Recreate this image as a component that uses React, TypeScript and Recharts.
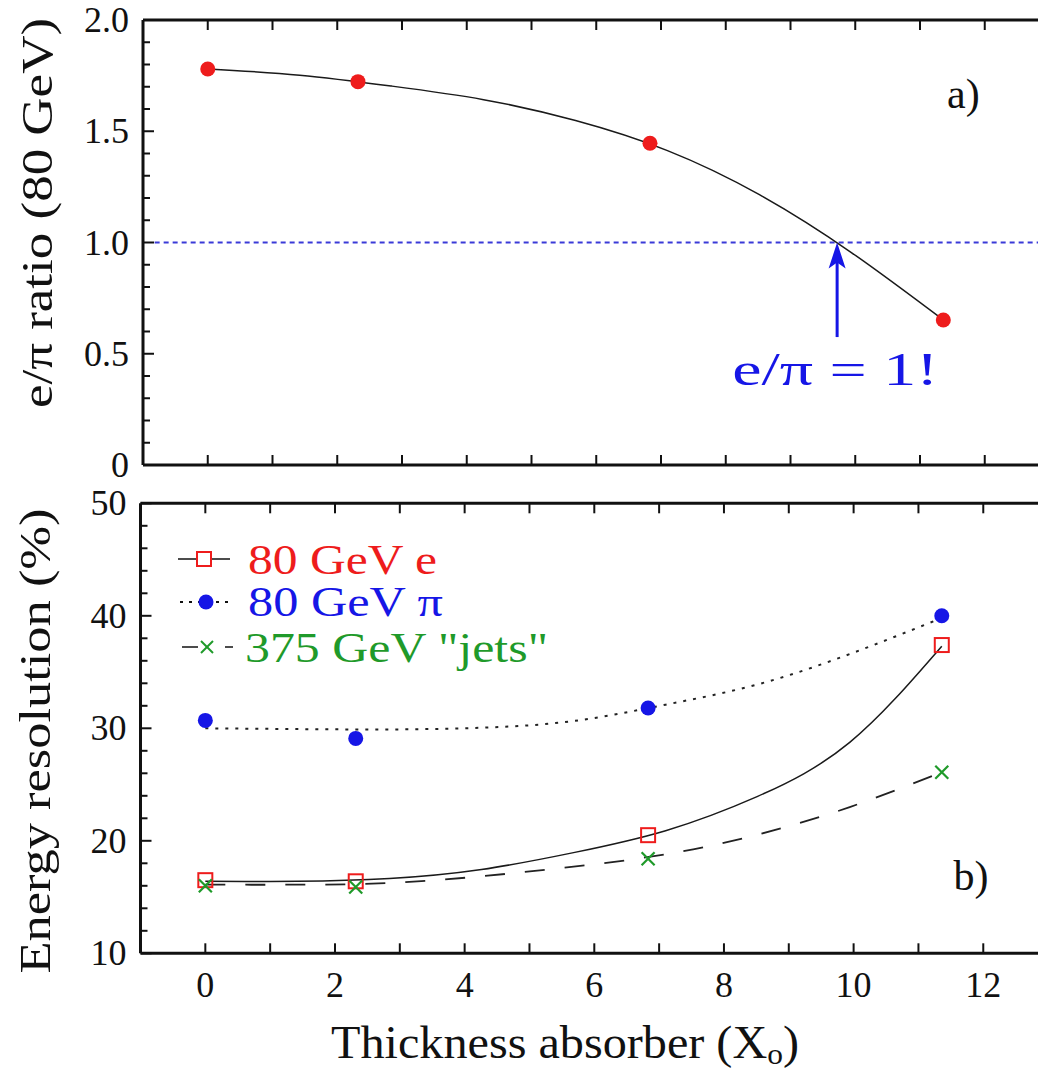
import React from 'react';
import { ComposedChart, Line, XAxis, YAxis, ReferenceLine, ReferenceDot, Legend } from 'recharts';

const FONT = '"Liberation Serif", "Times New Roman", Times, serif';
const INK = '#111111';
const RED = '#ee1c1c';
const BLUE = '#1616e6';
const GREEN = '#1f9a2a';
const REF_BLUE = '#3a3ad8';

// ---- measured points ----
const thickness = [0, 2.32, 6.83, 11.36];
const ratioValues = [1.78, 1.723, 1.446, 0.652];
const resE = [16.5, 16.4, 20.5, 37.4];
const resPi = [30.7, 29.1, 31.8, 40.0];
const resJets = [16.0, 15.9, 18.4, 26.1];

// ---- fitted curves, read at evenly spaced thickness values ----
const fitX = [0, 1.42, 2.84, 4.26, 5.68, 7.1, 8.52, 9.94, 11.36];
const ratioFitY = [1.78, 1.752, 1.703, 1.642, 1.548, 1.413, 1.215, 0.955, 0.652];
const eFitY = [16.4, 16.4, 16.65, 17.45, 18.95, 20.9, 23.95, 28.75, 37.3];
const piFitY = [30.0, 29.93, 29.9, 30.05, 30.65, 32.1, 33.9, 36.6, 39.8];
const jetsFitY = [16.1, 16.1, 16.25, 16.85, 17.7, 18.8, 20.55, 23.0, 26.1];
const crossingX = 9.72;

// ---- ticks & labels ----
const xTicks = [0, 1, 2, 3, 4, 5, 6, 7, 8, 9, 10, 11, 12];
const ratioTicks = [0, 0.1, 0.2, 0.3, 0.4, 0.5, 0.6, 0.7, 0.8, 0.9, 1.0, 1.1, 1.2, 1.3, 1.4, 1.5, 1.6, 1.7, 1.8, 1.9, 2.0];
const resTicks = [10, 12, 14, 16, 18, 20, 22, 24, 26, 28, 30, 32, 34, 36, 38, 40, 42, 44, 46, 48, 50];
const legendLabels = ['80 GeV e', '80 GeV \u03c0', '375 GeV "jets"'];
const topYTitle = 'e/\u03c0 ratio (80 GeV)';
const bottomYTitle = 'Energy resolution (%)';
const xTitle = 'Thickness absorber (X';
const xTitleSub = 'o';
const annotation = 'e/\u03c0 = 1!';

const rows = (xs: number[], ys: number[]) => xs.map((x, i) => ({ x, y: ys[i] }));

const ratioPts = rows(thickness, ratioValues);
const ratioFit = rows(fitX, ratioFitY);
const ePts = rows(thickness, resE);
const piPts = rows(thickness, resPi);
const jetsPts = rows(thickness, resJets);
const eFit = rows(fitX, eFitY);
const piFit = rows(fitX, piFitY);
const jetsFit = rows(fitX, jetsFitY);

// ---- tick renderers ----
const makeXTick = (dir: number, labels: boolean) => (props: any) => {
  const { x, y, payload } = props;
  const v = payload.value;
  const major = v % 2 === 0;
  return (
    <g>
      <line x1={x} x2={x} y1={y} y2={y + dir * 10} stroke={INK} strokeWidth={2} />
      {labels && major && (
        <text x={x} y={y + 44} textAnchor="middle" fontSize={36} fontFamily={FONT} fill={INK}>
          {v}
        </text>
      )}
    </g>
  );
};

const makeYTick = (isMajor: (v: number) => boolean, fmt: (v: number) => string) => (props: any) => {
  const { x, y, payload } = props;
  const v = payload.value;
  const major = isMajor(v);
  return (
    <g>
      <line x1={x} x2={x + (major ? 11 : 7)} y1={y} y2={y} stroke={INK} strokeWidth={2} />
      {major && (
        <text x={x - 14} y={y + 12} textAnchor="end" fontSize={36} fontFamily={FONT} fill={INK}>
          {fmt(v)}
        </text>
      )}
    </g>
  );
};

const ratioMajor = (v: number) => Math.abs(v * 2 - Math.round(v * 2)) < 1e-9;
const ratioFmt = (v: number) => (v === 0 ? '0' : v.toFixed(1));
const resMajor = (v: number) => v % 10 === 0;
const resFmt = (v: number) => String(v);

// ---- markers ----
const redDot = (p: any) => <circle key={`rd${p.index}`} cx={p.cx} cy={p.cy} r={7.5} fill={RED} />;
const blueDot = (p: any) => <circle key={`bd${p.index}`} cx={p.cx} cy={p.cy} r={7.5} fill={BLUE} />;
const redSquare = (p: any) => (
  <rect key={`rs${p.index}`} x={p.cx - 7} y={p.cy - 7} width={14} height={14} fill="none" stroke={RED} strokeWidth={2} />
);
const greenCross = (p: any) => (
  <g key={`gx${p.index}`}>
    <line x1={p.cx - 6.5} y1={p.cy - 6.5} x2={p.cx + 6.5} y2={p.cy + 6.5} stroke={GREEN} strokeWidth={2.2} />
    <line x1={p.cx - 6.5} y1={p.cy + 6.5} x2={p.cx + 6.5} y2={p.cy - 6.5} stroke={GREEN} strokeWidth={2.2} />
  </g>
);

const textShape = (str: string, size: number, color: string, len?: number) => (p: any) => (
  <text
    x={p.cx}
    y={p.cy}
    textAnchor="middle"
    fontSize={size}
    fontFamily={FONT}
    fill={color}
    {...(len ? { textLength: len, lengthAdjust: 'spacingAndGlyphs' } : {})}
  >
    {str}
  </text>
);

const arrowHead = (p: any) => (
  <polygon
    points={`${p.cx},${p.cy} ${p.cx - 8.5},${p.cy + 26} ${p.cx},${p.cy + 20} ${p.cx + 8.5},${p.cy + 26}`}
    fill={BLUE}
  />
);

const legendContent = () => (
  <svg width={420} height={150} style={{ display: 'block', overflow: 'visible' }}>
    <line x1={8} x2={60} y1={29} y2={29} stroke={INK} strokeWidth={1.5} />
    <rect x={27} y={22} width={14} height={14} fill="#fff" stroke={RED} strokeWidth={2} />
    <text x={78} y={44} fontSize={42} fontFamily={FONT} fill={RED} textLength={189} lengthAdjust="spacingAndGlyphs">
      {legendLabels[0]}
    </text>
    <line x1={10} x2={58} y1={72} y2={72} stroke={INK} strokeWidth={2} strokeDasharray="3 6" />
    <circle cx={36} cy={72} r={7.5} fill={BLUE} />
    <text x={78} y={86} fontSize={42} fontFamily={FONT} fill={BLUE} textLength={195} lengthAdjust="spacingAndGlyphs">
      {legendLabels[1]}
    </text>
    <line x1={12} x2={28} y1={117} y2={117} stroke={INK} strokeWidth={1.5} />
    <line x1={55} x2={63} y1={117} y2={117} stroke={INK} strokeWidth={1.5} />
    <line x1={31} y1={111} x2={43} y2={123} stroke={GREEN} strokeWidth={2} />
    <line x1={31} y1={123} x2={43} y2={111} stroke={GREEN} strokeWidth={2} />
    <text x={75} y={132} fontSize={42} fontFamily={FONT} fill={GREEN} textLength={303} lengthAdjust="spacingAndGlyphs">
      {legendLabels[2]}
    </text>
  </svg>
);

const frame = { stroke: INK, strokeWidth: 3 };

export default function App() {
  return (
    <div
      style={{
        position: 'absolute',
        left: 0,
        top: 0,
        width: 1038,
        height: 1069,
        overflow: 'hidden',
        background: '#ffffff',
      }}
    >
      {/* Panel a */}
      <div style={{ position: 'absolute', left: 0, top: 0 }}>
        <ComposedChart width={1052} height={490} margin={{ top: 19, right: 2.5, bottom: 24, left: 0 }}>
          <XAxis
            type="number"
            dataKey="x"
            domain={[-1, 13]}
            allowDataOverflow
            ticks={xTicks}
            interval={0}
            height={1}
            tickSize={0}
            tickMargin={0}
            axisLine={frame}
            tickLine={false}
            tick={makeXTick(-1, false)}
          />
          <XAxis
            xAxisId="top"
            orientation="top"
            type="number"
            dataKey="x"
            domain={[-1, 13]}
            allowDataOverflow
            ticks={xTicks}
            interval={0}
            height={1}
            tickSize={0}
            tickMargin={0}
            axisLine={frame}
            tickLine={false}
            tick={makeXTick(1, false)}
          />
          <YAxis
            type="number"
            domain={[0, 2]}
            allowDataOverflow
            ticks={ratioTicks}
            interval={0}
            width={143}
            tickSize={0}
            tickMargin={0}
            axisLine={frame}
            tickLine={false}
            tick={makeYTick(ratioMajor, ratioFmt)}
            label={() => (
              <text
                transform="translate(52,213) rotate(-90)"
                textAnchor="middle"
                fontSize={44}
                fontFamily={FONT}
                fill={INK}
                textLength={390}
                lengthAdjust="spacingAndGlyphs"
              >
                {topYTitle}
              </text>
            )}
          />
          <ReferenceLine
            segment={[
              { x: -0.82, y: 1 },
              { x: 13, y: 1 },
            ]}
            stroke={REF_BLUE}
            strokeWidth={2}
            strokeDasharray="5 4"
            ifOverflow="visible"
          />
          <Line
            data={ratioFit}
            dataKey="y"
            type="natural"
            stroke="#1a1a1a"
            strokeWidth={1.5}
            dot={false}
            activeDot={false}
            isAnimationActive={false}
          />
          <ReferenceLine
            segment={[
              { x: crossingX, y: 0.575 },
              { x: crossingX, y: 0.93 },
            ]}
            stroke={BLUE}
            strokeWidth={3}
          />
          <ReferenceDot x={crossingX} y={1} shape={arrowHead} />
          <ReferenceDot x={9.69} y={0.36} shape={textShape(annotation, 46, BLUE, 206)} />
          <ReferenceDot x={11.67} y={1.604} shape={textShape('a)', 42, INK)} />
          <Line
            data={ratioPts}
            dataKey="y"
            stroke="none"
            dot={redDot}
            activeDot={false}
            isAnimationActive={false}
          />
        </ComposedChart>
      </div>

      {/* Panel b */}
      <div style={{ position: 'absolute', left: 0, top: 480 }}>
        <ComposedChart width={1051} height={589} margin={{ top: 22.3, right: 2.9, bottom: 114.7, left: 0 }}>
          <XAxis
            type="number"
            dataKey="x"
            domain={[-1, 13]}
            allowDataOverflow
            ticks={xTicks}
            interval={0}
            height={1}
            tickSize={0}
            tickMargin={0}
            axisLine={frame}
            tickLine={false}
            tick={makeXTick(-1, true)}
            label={() => (
              <text
                x={565}
                y={578}
                textAnchor="middle"
                fontSize={46}
                fontFamily={FONT}
                fill={INK}
                textLength={468}
                lengthAdjust="spacingAndGlyphs"
              >
                {xTitle}
                <tspan fontSize={30} dy={6}>
                  {xTitleSub}
                </tspan>
                <tspan dy={-6}>)</tspan>
              </text>
            )}
          />
          <XAxis
            xAxisId="top"
            orientation="top"
            type="number"
            dataKey="x"
            domain={[-1, 13]}
            allowDataOverflow
            ticks={xTicks}
            interval={0}
            height={1}
            tickSize={0}
            tickMargin={0}
            axisLine={frame}
            tickLine={false}
            tick={makeXTick(1, false)}
          />
          <YAxis
            type="number"
            domain={[10, 50]}
            allowDataOverflow
            ticks={resTicks}
            interval={0}
            width={140.5}
            tickSize={0}
            tickMargin={0}
            axisLine={frame}
            tickLine={false}
            tick={makeYTick(resMajor, resFmt)}
            label={() => (
              <text
                transform="translate(50,261) rotate(-90)"
                textAnchor="middle"
                fontSize={44}
                fontFamily={FONT}
                fill={INK}
                textLength={465}
                lengthAdjust="spacingAndGlyphs"
              >
                {bottomYTitle}
              </text>
            )}
          />
          <Legend
            layout="horizontal"
            verticalAlign="middle"
            align="center"
            content={legendContent}
            wrapperStyle={{ left: 170, top: 50, width: 420, height: 150 }}
          />
          <Line
            data={piFit}
            dataKey="y"
            type="natural"
            stroke="#222"
            strokeWidth={2}
            strokeDasharray="3 7"
            dot={false}
            activeDot={false}
            legendType="none"
            isAnimationActive={false}
          />
          <Line
            data={jetsFit}
            dataKey="y"
            type="natural"
            stroke="#222"
            strokeWidth={1.8}
            strokeDasharray="20 20"
            dot={false}
            activeDot={false}
            legendType="none"
            isAnimationActive={false}
          />
          <Line
            data={eFit}
            dataKey="y"
            type="natural"
            stroke="#1a1a1a"
            strokeWidth={1.5}
            dot={false}
            activeDot={false}
            legendType="none"
            isAnimationActive={false}
          />
          <ReferenceDot x={11.81} y={15.63} shape={textShape('b)', 42, INK)} />
          <Line
            data={piPts}
            dataKey="y"
            name={legendLabels[1]}
            stroke="none"
            dot={blueDot}
            activeDot={false}
            isAnimationActive={false}
          />
          <Line
            data={ePts}
            dataKey="y"
            name={legendLabels[0]}
            stroke="none"
            dot={redSquare}
            activeDot={false}
            isAnimationActive={false}
          />
          <Line
            data={jetsPts}
            dataKey="y"
            name={legendLabels[2]}
            stroke="none"
            dot={greenCross}
            activeDot={false}
            isAnimationActive={false}
          />
        </ComposedChart>
      </div>
    </div>
  );
}
